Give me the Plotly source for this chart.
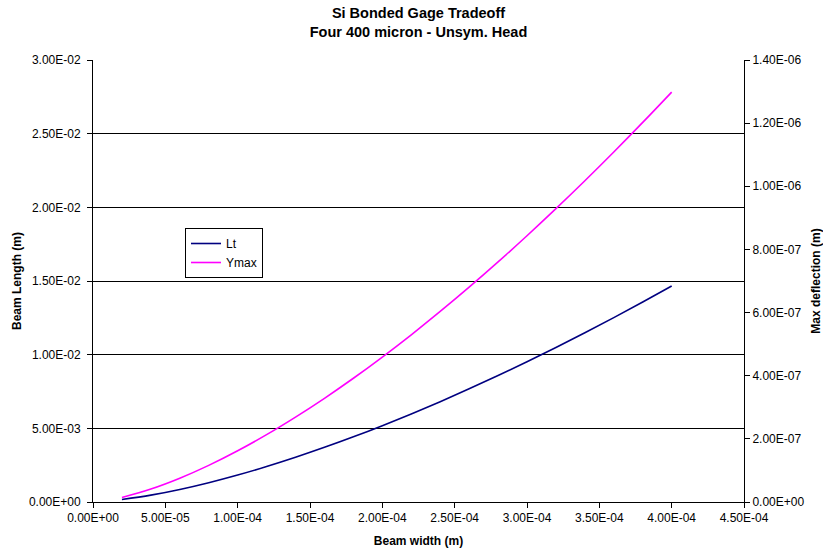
import plotly.graph_objects as go

# Beam width (m)
beam_width = [2e-5, 4e-5, 6e-5, 8e-5, 1.0e-4, 1.2e-4, 1.4e-4, 1.6e-4, 1.8e-4, 2.0e-4,
              2.2e-4, 2.4e-4, 2.6e-4, 2.8e-4, 3.0e-4, 3.2e-4, 3.4e-4, 3.6e-4, 3.8e-4, 4.0e-4]
# Beam length Lt (m) - left axis
lt = [1.64e-4, 4.64e-4, 8.52e-4, 1.311e-3, 1.832e-3, 2.408e-3, 3.035e-3, 3.708e-3, 4.424e-3, 5.182e-3,
      5.978e-3, 6.812e-3, 7.681e-3, 8.583e-3, 9.519e-3, 1.0487e-2, 1.1485e-2, 1.2513e-2, 1.3571e-2, 1.4656e-2]
# Max deflection Ymax (m) - right axis
ymax = [1.45e-8, 4.11e-8, 7.54e-8, 1.161e-7, 1.623e-7, 2.133e-7, 2.689e-7, 3.285e-7, 3.919e-7, 4.591e-7,
        5.296e-7, 6.035e-7, 6.804e-7, 7.604e-7, 8.433e-7, 9.291e-7, 1.0175e-6, 1.1086e-6, 1.2023e-6, 1.2984e-6]

x_ticks = [0, 5e-5, 1e-4, 1.5e-4, 2e-4, 2.5e-4, 3e-4, 3.5e-4, 4e-4, 4.5e-4]
x_labels = ["0.00E+00", "5.00E-05", "1.00E-04", "1.50E-04", "2.00E-04", "2.50E-04",
            "3.00E-04", "3.50E-04", "4.00E-04", "4.50E-04"]
y_ticks = [0, 5e-3, 1e-2, 1.5e-2, 2e-2, 2.5e-2, 3e-2]
y_labels = ["0.00E+00", "5.00E-03", "1.00E-02", "1.50E-02", "2.00E-02", "2.50E-02", "3.00E-02"]
y2_ticks = [0, 2e-7, 4e-7, 6e-7, 8e-7, 1e-6, 1.2e-6, 1.4e-6]
y2_labels = ["0.00E+00", "2.00E-07", "4.00E-07", "6.00E-07", "8.00E-07", "1.00E-06", "1.20E-06", "1.40E-06"]

FONT = "Liberation Sans, Arial, sans-serif"
TICKFONT = dict(size=12, family=FONT, color="black")

fig = go.Figure()
fig.add_trace(go.Scatter(x=beam_width, y=lt, name="Lt", mode="lines",
                         line=dict(color="#000080", width=1.6, shape="spline"), yaxis="y"))
fig.add_trace(go.Scatter(x=beam_width, y=ymax, name="Ymax", mode="lines",
                         line=dict(color="#FF00FF", width=1.6, shape="spline"), yaxis="y2"))

fig.update_layout(
    width=823, height=550,
    margin=dict(l=93, r=79, t=60, b=48, autoexpand=False),
    paper_bgcolor="white", plot_bgcolor="white",
    font=dict(family=FONT, size=12, color="black"),
    title=dict(text="<b>Si Bonded Gage Tradeoff<br>Four 400 micron - Unsym. Head</b>",
               x=(93 + 744) / 2 / 823, xanchor="center", y=1 - 18 / 550, yanchor="middle",
               font=dict(size=14.5, family=FONT, color="black")),
    xaxis=dict(range=[0, 4.5e-4], tickvals=x_ticks, ticktext=x_labels, tickfont=TICKFONT,
               showgrid=False, zeroline=False, showline=True, linecolor="black", linewidth=1,
               ticks="outside", ticklen=5, tickcolor="black", automargin=False,
               title=dict(text="<b>Beam width (m)</b>", standoff=12, font=dict(size=12))),
    yaxis=dict(range=[0, 3e-2], tickvals=y_ticks, ticktext=y_labels, tickfont=TICKFONT,
               showgrid=True, gridcolor="black", gridwidth=1, zeroline=False,
               showline=True, linecolor="black", linewidth=1, ticklabelstandoff=4,
               ticks="outside", ticklen=5, tickcolor="black", automargin=False,
               title=dict(text="<b>Beam Length (m)</b>", standoff=4, font=dict(size=12))),
    yaxis2=dict(range=[0, 1.4e-6], tickvals=y2_ticks, ticktext=y2_labels, tickfont=TICKFONT,
                overlaying="y", side="right", showgrid=False, zeroline=False,
                showline=True, linecolor="black", linewidth=1,
                ticks="outside", ticklen=5, tickcolor="black", automargin=False,
                title=dict(text="<b>Max deflection (m)</b>", standoff=10, font=dict(size=12))),
    legend=dict(x=(185 - 93) / 651, y=(502 - 228) / 442, xanchor="left", yanchor="top",
                bgcolor="white", bordercolor="black", borderwidth=1,
                font=dict(size=12), tracegroupgap=0, itemwidth=30),
    showlegend=True,
)

fig.write_html("out.html", config={"displayModeBar": False},
               post_script="document.body.style.margin='0';")
